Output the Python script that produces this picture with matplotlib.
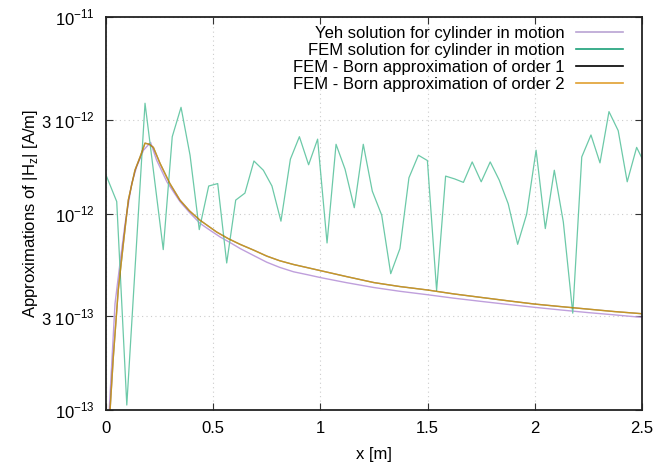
import numpy as np
import matplotlib
matplotlib.use('Agg')
from matplotlib import pyplot as plt
from matplotlib.lines import Line2D

plt.rcParams['font.family'] = ['Liberation Sans', 'DejaVu Sans']
plt.rcParams['font.size'] = 12

############### data (y in units of 1e-13 A/m) ###############
x_fem = [0.0, 0.050, 0.097, 0.182, 0.267, 0.309, 0.350, 0.392, 0.435, 0.479,
         0.521, 0.563, 0.605, 0.648, 0.690, 0.734, 0.774, 0.816, 0.860, 0.902,
         0.945, 0.987, 1.031, 1.073, 1.115, 1.158, 1.200, 1.242, 1.286, 1.328,
         1.371, 1.413, 1.457, 1.499, 1.542, 1.584, 1.626, 1.667, 1.708, 1.750,
         1.792, 1.834, 1.876, 1.920, 1.962, 2.006, 2.049, 2.091, 2.133, 2.177,
         2.219, 2.262, 2.304, 2.346, 2.389, 2.431, 2.475, 2.500]
y_fem = [15.7, 11.5, 1.06, 36.4, 6.55, 24.6, 34.7, 19.8, 8.28, 13.8,
         14.2, 5.60, 11.7, 12.7, 18.5, 16.6, 13.8, 9.14, 18.9, 24.6,
         17.7, 23.9, 7.08, 22.5, 16.8, 10.7, 22.5, 13.0, 9.80, 4.94,
         6.63, 15.2, 19.8, 18.6, 4.06, 15.5, 15.0, 14.4, 18.3, 14.5,
         18.3, 14.8, 11.2, 6.97, 9.92, 21.0, 8.38, 16.6, 9.06, 3.11,
         19.4, 25.1, 18.1, 33.0, 26.4, 14.5, 21.7, 19.1]

x_yeh = [0.015, 0.042, 0.065, 0.089, 0.12, 0.143, 0.175, 0.208, 0.236, 0.284,
         0.345, 0.39, 0.439, 0.49, 0.532, 0.58, 0.626, 0.69, 0.75, 0.81,
         0.875, 0.94, 1.0, 1.12, 1.25, 1.37, 1.5, 1.62, 1.75, 1.87,
         2.0, 2.12, 2.25, 2.37, 2.5]
y_yeh = [1.0, 3.47, 5.56, 8.9, 14.2, 17.3, 21.0, 23.0, 18.7, 14.5,
         11.5, 10.1, 8.9, 8.15, 7.6, 7.1, 6.63, 6.1, 5.65, 5.32,
         5.05, 4.88, 4.72, 4.45, 4.2, 4.02, 3.86, 3.71, 3.57, 3.45,
         3.33, 3.23, 3.13, 3.05, 2.96]

x_born = [0.019, 0.034, 0.057, 0.081, 0.104, 0.135, 0.159, 0.182, 0.202, 0.221,
          0.252, 0.298, 0.345, 0.39, 0.438, 0.516, 0.57, 0.625, 0.69, 0.75,
          0.81, 0.875, 0.94, 1.0, 1.12, 1.25, 1.37, 1.5, 1.62, 1.75,
          1.87, 2.0, 2.12, 2.25, 2.37, 2.5]
y_born1 = [1.0, 1.85, 4.06, 7.03, 11.7, 16.6, 19.4, 22.8, 22.5, 21.7,
           18.0, 14.2, 11.7, 10.3, 9.25, 8.05, 7.45, 6.97, 6.5, 6.07,
           5.75, 5.5, 5.3, 5.12, 4.78, 4.45, 4.25, 4.08, 3.9, 3.74,
           3.6, 3.46, 3.36, 3.26, 3.17, 3.09]
y_born2 = [1.0, 1.85, 4.06, 7.03, 11.7, 16.6, 19.4, 22.8, 22.5, 21.7,
           18.0, 14.2, 11.7, 10.3, 9.25, 8.05, 7.45, 6.97, 6.5, 6.07,
           5.75, 5.5, 5.3, 5.12, 4.78, 4.45, 4.25, 4.08, 3.9, 3.74,
           3.6, 3.46, 3.36, 3.26, 3.17, 3.09]

labels = ['Yeh solution for cylinder in motion',
          'FEM solution for cylinder in motion',
          'FEM - Born approximation of order 1',
          'FEM - Born approximation of order 2']
y_ticks = [1e-13, 3e-13, 1e-12, 3e-12, 1e-11]
y_ticklabels = ['10$^{\\mathregular{-13}}$', '3 10$^{\\mathregular{-13}}$',
                '10$^{\\mathregular{-12}}$', '3 10$^{\\mathregular{-12}}$',
                '10$^{\\mathregular{-11}}$']
x_ticks = [0, 0.5, 1, 1.5, 2, 2.5]

############### plot ###############
scale = 1e-13
fig = plt.figure(figsize=(6.68, 4.65), dpi=100)
ax = fig.add_axes([106 / 668, 1 - 410 / 465, 536 / 668, 393 / 465])

ax.plot(x_yeh, np.array(y_yeh) * scale, color='#bf9fdc', lw=1.0)
ax.plot(x_fem, np.array(y_fem) * scale, color='#6cc9a8', lw=0.9)
ax.plot(x_born, np.array(y_born1) * scale, color='black', lw=1.0, alpha=0.5)
ax.plot(x_born, np.array(y_born2) * scale, color='#e69f00', lw=1.0, alpha=0.7)

ax.set_yscale('log')
ax.set_xlim(0, 2.5)
ax.set_ylim(1e-13, 1e-11)
ax.set_yticks(y_ticks)
ax.set_yticklabels(y_ticklabels)
ax.yaxis.set_minor_locator(matplotlib.ticker.NullLocator())
ax.set_xticks(x_ticks)
ax.set_xticklabels(['0', '0.5', '1', '1.5', '2', '2.5'])
ax.tick_params(direction='in', top=True, right=True, length=5, width=0.8,
               pad=8, colors='#333333', labelcolor='black')
ax.grid(True, color='#cccccc', linestyle=(0, (1, 3)), lw=0.8)
for sp in ax.spines.values():
    sp.set_linewidth(1.3)
    sp.set_color('#222222')

ax.set_xlabel('x [m]', labelpad=8)
ax.set_ylabel('Approximations of |H$_\\mathregular{z}$| [A/m]', labelpad=1)

handles = [Line2D([], [], color='#b9a3d3', lw=1.2),
           Line2D([], [], color='#1a9f78', lw=1.2),
           Line2D([], [], color='black', lw=1.2),
           Line2D([], [], color='#e0a030', lw=1.2)]
ax.legend(handles, labels, loc='upper right', markerfirst=False, frameon=False,
          bbox_to_anchor=(623 / 668, 1 - 26 / 465), bbox_transform=fig.transFigure,
          borderpad=0, borderaxespad=0, labelspacing=0.12, handlelength=2.8,
          handletextpad=0.7, fontsize=12)

fig.savefig('out.png', dpi=100)
